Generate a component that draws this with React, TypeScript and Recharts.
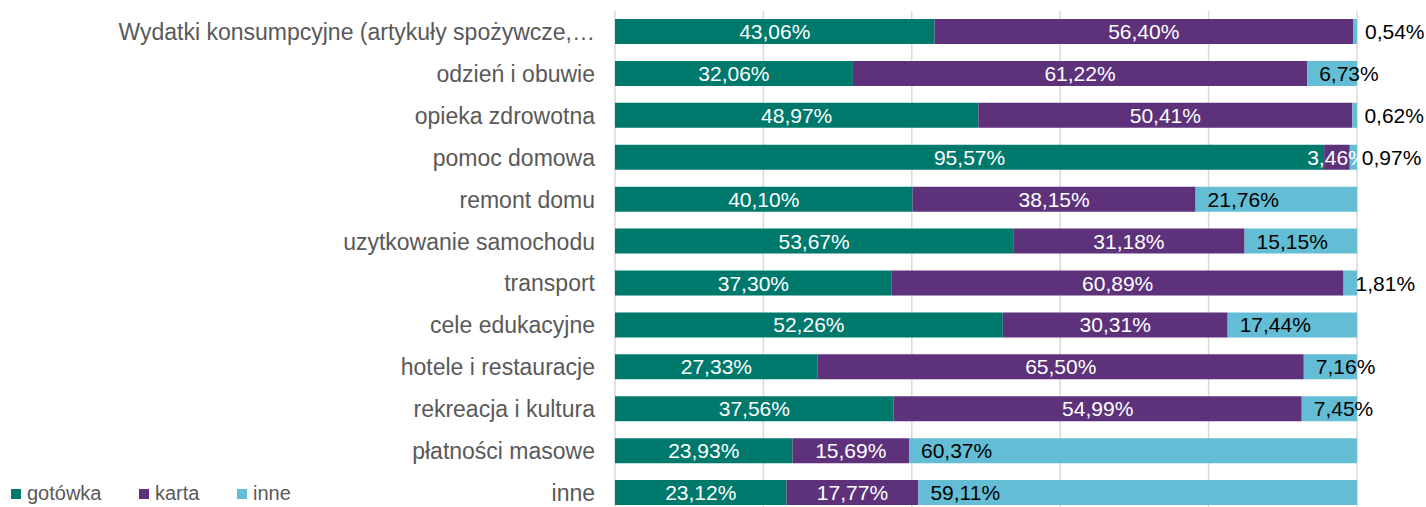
import { Bar, BarChart, CartesianGrid, LabelList, XAxis, YAxis } from "recharts";

// Payment method share per spending category (100% stacked, horizontal).
const CATEGORIES = [
  "Wydatki konsumpcyjne (artykuły spożywcze,…",
  "odzień i obuwie",
  "opieka zdrowotna",
  "pomoc domowa",
  "remont domu",
  "uzytkowanie samochodu",
  "transport",
  "cele edukacyjne",
  "hotele i restauracje",
  "rekreacja i kultura",
  "płatności masowe",
  "inne",
];
const GOTOWKA = [43.06, 32.06, 48.97, 95.57, 40.1, 53.67, 37.3, 52.26, 27.33, 37.56, 23.93, 23.12];
const KARTA = [56.4, 61.22, 50.41, 3.46, 38.15, 31.18, 60.89, 30.31, 65.5, 54.99, 15.69, 17.77];
const INNE = [0.54, 6.73, 0.62, 0.97, 21.76, 15.15, 1.81, 17.44, 7.16, 7.45, 60.37, 59.11];
const X_TICKS = [0, 20, 40, 60, 80, 100];

const TEAL = "#00796d";
const PURPLE = "#5d327b";
const LIGHT = "#63bdd4";
const TEXT = "#595959";
const FONT = "Liberation Sans, Arial, sans-serif";

const data = CATEGORIES.map((name, i) => ({
  name,
  gotowka: GOTOWKA[i],
  karta: KARTA[i],
  inne: INNE[i],
}));

const fmt = (v: number) => `${v.toFixed(2).replace(".", ",")}%`;

function CenterLabel(props: any) {
  const { x, y, width, height, value } = props;
  return (
    <text
      x={x + width / 2}
      y={y + height / 2}
      textAnchor="middle"
      dominantBaseline="central"
      fill="#fff"
      fontSize={21}
      fontFamily={FONT}
    >
      {fmt(value)}
    </text>
  );
}

// "inne" labels sit just after the segment start (outside the bar when tiny)
function InneLabel(props: any) {
  const { x, y, height, value } = props;
  return (
    <text
      x={x + 12}
      y={y + height / 2}
      textAnchor="start"
      dominantBaseline="central"
      fill="#000"
      fontSize={21}
      fontFamily={FONT}
    >
      {fmt(value)}
    </text>
  );
}

function CategoryTick(props: any) {
  const { y, payload } = props;
  return (
    <text
      x={595}
      y={y}
      textAnchor="end"
      dominantBaseline="central"
      fill={TEXT}
      fontSize={23}
      fontFamily={FONT}
    >
      {payload.value}
    </text>
  );
}

const LEGEND = [
  { label: "gotówka", color: TEAL, left: 11 },
  { label: "karta", color: PURPLE, left: 139 },
  { label: "inne", color: LIGHT, left: 237 },
];

export default function App() {
  return (
    <div style={{ position: "absolute", left: 0, top: 0, width: 1426, height: 507, overflow: "hidden", background: "#fff" }}>
      <BarChart
        width={1426}
        height={514}
        data={data}
        layout="vertical"
        margin={{ top: 11, right: 69, bottom: 0, left: 0 }}
        barSize={25}
      >
        <CartesianGrid horizontal={false} stroke="#d9d9d9" strokeWidth={1.5} />
        <XAxis type="number" domain={[0, 100]} ticks={X_TICKS} allowDataOverflow hide />
        <YAxis
          type="category"
          dataKey="name"
          width={615}
          axisLine={false}
          tickLine={false}
          tick={<CategoryTick />}
          interval={0}
        />
        <Bar dataKey="gotowka" stackId="s" fill={TEAL} isAnimationActive={false}>
          <LabelList dataKey="gotowka" content={<CenterLabel />} />
        </Bar>
        <Bar dataKey="karta" stackId="s" fill={PURPLE} isAnimationActive={false}>
          <LabelList dataKey="karta" content={<CenterLabel />} />
        </Bar>
        <Bar dataKey="inne" stackId="s" fill={LIGHT} isAnimationActive={false}>
          <LabelList dataKey="inne" content={<InneLabel />} />
        </Bar>
      </BarChart>
      <div style={{ position: "absolute", left: 0, top: 482, height: 26, width: 400, fontFamily: FONT, fontSize: 20, color: TEXT }}>
        {LEGEND.map((l) => (
          <span
            key={l.label}
            style={{ position: "absolute", left: l.left, top: 0, display: "inline-flex", alignItems: "center", gap: 6 }}
          >
            <span style={{ display: "inline-block", width: 10, height: 10, backgroundColor: l.color }} />
            {l.label}
          </span>
        ))}
      </div>
    </div>
  );
}
